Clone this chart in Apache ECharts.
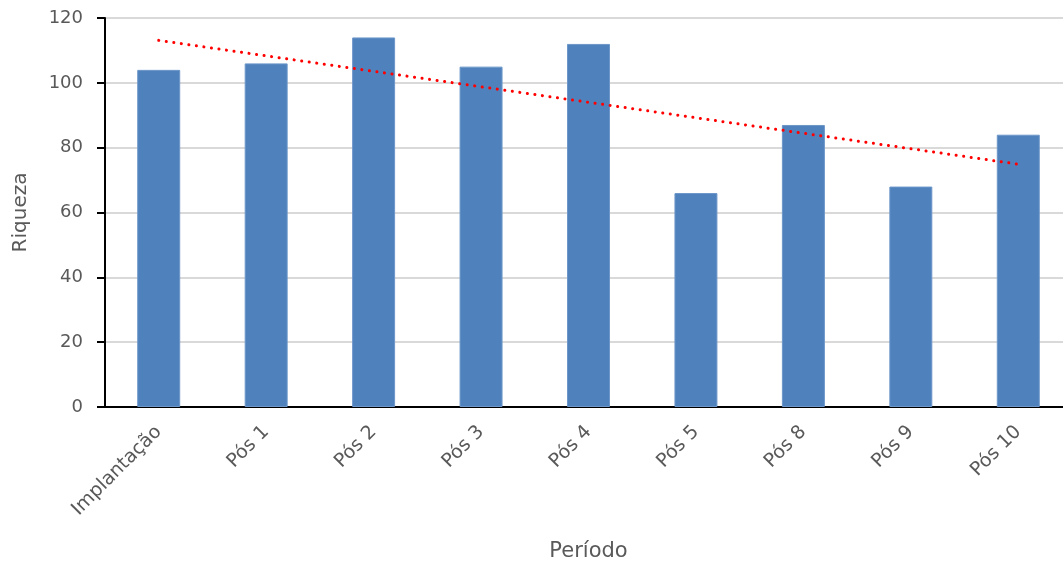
<!DOCTYPE html>
<html><head><meta charset="utf-8">
<script src="https://cdn.jsdelivr.net/npm/echarts@6/dist/echarts.min.js"></script>
<style>html,body{margin:0;padding:0;background:#fff}#c{width:1063px;height:563px}</style>
</head><body><div id="c"></div>
<script>
const categories = ['Implantação','Pós 1','Pós 2','Pós 3','Pós 4','Pós 5','Pós 8','Pós 9','Pós 10'];
const riqueza = [104, 106, 114, 105, 112, 66, 87, 68, 84];
const trendEnds = [113.1, 74.9];
const yTicks = [0, 20, 40, 60, 80, 100, 120];

const trend = categories.map((c, i) => i === 0 ? trendEnds[0] : (i === categories.length - 1 ? trendEnds[1] : null));
const font = "'DejaVu Sans', sans-serif";
const chart = echarts.init(document.getElementById('c'), null, {renderer: 'canvas'});
chart.setOption({
  animation: false,
  grid: {left: 105, right: -9, top: 18, bottom: 156, containLabel: false, outerBoundsMode: 'none'},
  xAxis: {
    type: 'category', data: categories,
    axisLine: {lineStyle: {color: '#000', width: 2}},
    axisTick: {show: false},
    axisLabel: {rotate: 45, color: '#595959', fontSize: 19, fontFamily: font, margin: 22},
    name: 'Período', nameLocation: 'middle', nameGap: 134,
    nameTextStyle: {color: '#595959', fontSize: 21, fontFamily: font}
  },
  yAxis: {
    type: 'value', min: yTicks[0], max: yTicks[yTicks.length - 1], interval: 20,
    axisLine: {show: true, lineStyle: {color: '#000', width: 2}},
    axisTick: {show: true, length: 8, lineStyle: {color: '#000', width: 2}},
    axisLabel: {color: '#595959', fontSize: 18, fontFamily: font, margin: 22},
    splitLine: {lineStyle: {color: '#d9d9d9', width: 2}},
    name: 'Riqueza', nameLocation: 'middle', nameGap: 74,
    nameTextStyle: {color: '#595959', fontSize: 20, fontFamily: font}
  },
  series: [
    {type: 'bar', data: riqueza, barWidth: '40%',
     itemStyle: {color: '#4f81bd', borderColor: '#6d97c9', borderWidth: 1}},
    {type: 'line', data: trend, connectNulls: true, symbol: 'none', z: 5,
     lineStyle: {color: '#ff0000', width: 3, type: [0.1, 7.5], cap: 'round'}}
  ]
});
</script></body></html>
